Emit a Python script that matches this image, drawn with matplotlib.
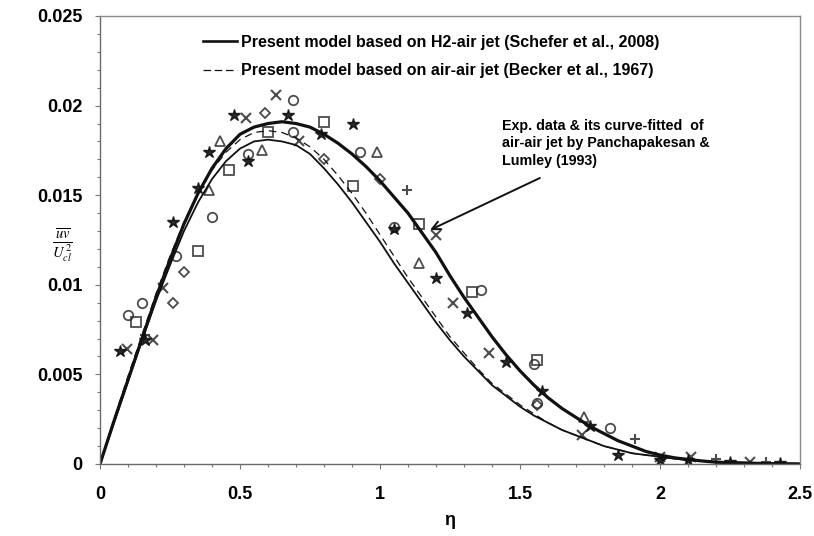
import matplotlib
matplotlib.use("Agg")
import matplotlib.pyplot as plt
from matplotlib.lines import Line2D
from matplotlib.ticker import MultipleLocator, FuncFormatter

plt.rcParams['font.family'] = ['Liberation Sans', 'DejaVu Sans']
plt.rcParams['mathtext.fontset'] = 'stix'

# ---- curves ----
eta = [0, 0.05, 0.1, 0.15, 0.2, 0.25, 0.3, 0.35, 0.4, 0.45, 0.5, 0.55, 0.6, 0.65, 0.7,
       0.75, 0.8, 0.85, 0.9, 0.95, 1.0, 1.05, 1.1, 1.15, 1.2, 1.25, 1.3, 1.35, 1.4, 1.45,
       1.5, 1.55, 1.6, 1.65, 1.7, 1.75, 1.8, 1.85, 1.9, 1.95, 2.0, 2.05, 2.1, 2.15, 2.2,
       2.3, 2.4, 2.5]
exp_fit = [0, 0.0024, 0.0047, 0.0070, 0.0093, 0.0114, 0.0134, 0.0151, 0.0165, 0.0176,
           0.0184, 0.0188, 0.0190, 0.0191, 0.0190, 0.0188, 0.0184, 0.0179, 0.0173, 0.0166,
           0.0158, 0.0149, 0.0140, 0.0129, 0.0118, 0.0105, 0.0093, 0.0082, 0.0071, 0.0061,
           0.0052, 0.0044, 0.0037, 0.0031, 0.0026, 0.0021, 0.0017, 0.0013, 0.0010, 0.0007,
           0.0005, 0.00035, 0.00025, 0.00017, 0.0001, 0.00005, 0.00002, 0.0]
h2_air = [0, 0.0023, 0.0046, 0.0069, 0.0091, 0.0111, 0.0130, 0.0146, 0.0159, 0.0169,
          0.0176, 0.0180, 0.0181, 0.0180, 0.0178, 0.0173, 0.0165, 0.0156, 0.0146, 0.0135,
          0.0124, 0.0112, 0.0101, 0.0090, 0.0079, 0.0069, 0.0060, 0.0052, 0.0044, 0.0038,
          0.0032, 0.0027, 0.0023, 0.0019, 0.0016, 0.0013, 0.0010, 0.0008, 0.0006, 0.0005,
          0.0004, 0.0003, 0.00022, 0.00017, 0.00013, 0.00008, 0.00004, 0.00002]
air_air = [0, 0.0025, 0.0049, 0.0072, 0.0095, 0.0116, 0.0135, 0.0151, 0.0164, 0.0174,
           0.0181, 0.0185, 0.0186, 0.0185, 0.0182, 0.0177, 0.0170, 0.0161, 0.0151, 0.0140,
           0.0128, 0.0116, 0.0104, 0.0093, 0.0082, 0.0071, 0.0062, 0.0053, 0.0045, 0.0039,
           0.0033, 0.0028, 0.0023, 0.0019, 0.0016, 0.0013, 0.0010, 0.0008, 0.0006, 0.0005,
           0.0004, 0.0003, 0.00022, 0.00017, 0.00013, 0.00008, 0.00004, 0.00002]

circ_x = [0.10, 0.15, 0.27, 0.40, 0.53, 0.69, 0.69, 0.93, 1.05, 1.36, 1.55, 1.56, 1.82]
circ_y = [0.0083, 0.0090, 0.0116, 0.0138, 0.0173, 0.0185, 0.0203, 0.0174, 0.0132, 0.0097, 0.0056, 0.0034, 0.0020]
sq_x = [0.13, 0.35, 0.46, 0.60, 0.80, 0.905, 1.14, 1.33, 1.56]
sq_y = [0.0079, 0.0119, 0.0164, 0.0185, 0.0191, 0.0155, 0.0134, 0.0096, 0.0058]
tri_x = [0.39, 0.43, 0.58, 0.99, 1.14, 1.73]
tri_y = [0.0153, 0.0180, 0.0175, 0.0174, 0.0112, 0.0026]
dia_x = [0.26, 0.30, 0.59, 0.80, 1.00, 1.56]
dia_y = [0.0090, 0.0107, 0.0196, 0.0170, 0.0159, 0.0033]
cross_x = [0.095, 0.19, 0.225, 0.52, 0.63, 0.71, 1.20, 1.26, 1.39, 1.72, 2.0, 2.11, 2.32]
cross_y = [0.0064, 0.0069, 0.0098, 0.0193, 0.0206, 0.0180, 0.0128, 0.0090, 0.0062, 0.0016, 0.0004, 0.0004, 0.0001]
plus_x = [0.16, 1.095, 1.91, 2.2, 2.38]
plus_y = [0.0072, 0.0153, 0.0014, 0.0003, 0.0001]
star_x = [0.07, 0.16, 0.26, 0.35, 0.39, 0.48, 0.53, 0.67, 0.79, 0.905, 1.05, 1.20, 1.31,
          1.45, 1.58, 1.75, 1.85, 2.0, 2.1, 2.25, 2.43]
star_y = [0.0063, 0.0069, 0.0135, 0.0154, 0.0174, 0.0195, 0.0169, 0.0195, 0.0184, 0.0190,
          0.0131, 0.0104, 0.0084, 0.0057, 0.0041, 0.0021, 0.0005, 0.0002, 0.0002, 0.0001, 0.00005]

legend_labels = ["Present model based on H2-air jet (Schefer et al., 2008)",
                 "Present model based on air-air jet (Becker et al., 1967)"]
annot_text = "Exp. data & its curve-fitted  of\nair-air jet by Panchapakesan &\nLumley (1993)"
arrow_head = (1.179, 0.01306)
arrow_tail = (1.571, 0.01596)
x_ticks = [0, 0.5, 1, 1.5, 2, 2.5]
y_ticks = [0, 0.005, 0.01, 0.015, 0.02, 0.025]

fig = plt.figure(figsize=(8.14, 5.36), dpi=100)
ax = fig.add_axes([100/814, 72/536, 700/814, 448/536])

mc = '#2e2e2e'
ms = 6.8
ax.plot(circ_x, circ_y, 'o', mfc='none', mec=mc, ms=ms, mew=1.3, alpha=0.85)
ax.plot(sq_x, sq_y, 's', mfc='none', mec=mc, ms=ms, mew=1.3, alpha=0.85)
ax.plot(tri_x, tri_y, '^', mfc='none', mec=mc, ms=ms, mew=1.3, alpha=0.85)
ax.plot(dia_x, dia_y, 'D', mfc='none', mec=mc, ms=5.2, mew=1.3, alpha=0.85)
ax.plot(cross_x, cross_y, 'x', mec=mc, ms=ms, mew=1.5, alpha=0.85)
ax.plot(plus_x, plus_y, '+', mec=mc, ms=ms, mew=1.5, alpha=0.85)
ax.plot(star_x, star_y, '*', mfc='#111111', mec='#111111', ms=9, alpha=0.9)

ax.plot(eta, exp_fit, '-', color='#111111', lw=2.3, solid_capstyle='round')
ax.plot(eta, h2_air, '-', color='#111111', lw=1.3)
ax.plot(eta, air_air, color='#111111', lw=0.9, linestyle=(0, (6, 4)))

handles = [Line2D([], [], color='#111111', lw=1.9),
           Line2D([], [], color='#111111', lw=0.9, linestyle=(0, (6, 3)))]
ax.legend(handles, legend_labels, loc='upper left', frameon=False,
          bbox_to_anchor=(203/814, 1 - 35/536), bbox_transform=fig.transFigure,
          borderpad=0, borderaxespad=0, handlelength=2.1, handletextpad=0.3,
          labelspacing=0.82, prop={'weight': 'bold', 'size': 11.5})

ax.text(1.436, 0.01925, annot_text, fontsize=10.3, fontweight='bold',
        ha='left', va='top', linespacing=1.3)
ax.annotate('', xy=arrow_head, xytext=arrow_tail,
            arrowprops=dict(arrowstyle='->,head_length=0.6,head_width=0.3',
                            color='#111111', lw=1.4, shrinkA=0, shrinkB=0))

ax.set_xlim(0, 2.5)
ax.set_ylim(0, 0.025)
ax.set_xticks(x_ticks)
ax.set_yticks(y_ticks)
ax.xaxis.set_minor_locator(MultipleLocator(0.1))
ax.yaxis.set_minor_locator(MultipleLocator(0.001))
ax.xaxis.set_major_formatter(FuncFormatter(lambda v, p: f"{v:g}"))
ax.yaxis.set_major_formatter(FuncFormatter(lambda v, p: f"{v:g}"))
ax.tick_params(which='major', direction='out', length=3.6, width=0.8, color='#777777',
               labelsize=13)
ax.tick_params(which='minor', direction='out', length=2.4, width=0.8, color='#777777')
ax.tick_params(axis='x', pad=12)
ax.tick_params(axis='y', pad=9)
for lab in ax.get_xticklabels() + ax.get_yticklabels():
    lab.set_fontweight('bold')
for s in ax.spines.values():
    s.set_color('#8a8a8a')
    s.set_linewidth(1.0)
ax.spines['left'].set_color('#6a6a6a')
ax.spines['bottom'].set_color('#6a6a6a')

ax.set_xlabel('η', fontsize=13, fontweight='bold', labelpad=7)
ax.text(-0.053, 0.488, r'$\frac{\overline{uv}}{U_{cl}^{\,2}}$', transform=ax.transAxes,
        ha='center', va='center', fontsize=15)

fig.savefig('out.png', dpi=100)
